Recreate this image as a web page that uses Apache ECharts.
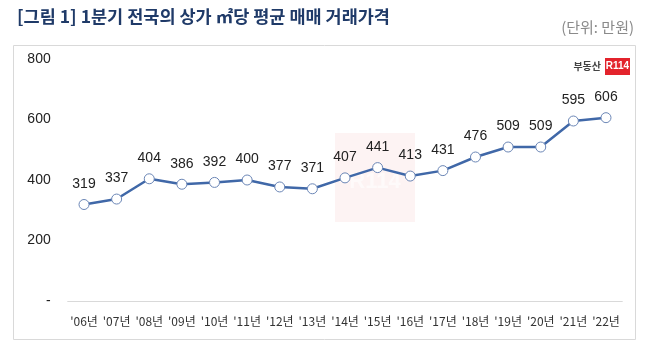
<!DOCTYPE html>
<html>
<head>
<meta charset="utf-8">
<script src="https://cdn.jsdelivr.net/npm/echarts@6/dist/echarts.min.js"></script>
<style>
html,body{margin:0;padding:0;background:#fff;}
#chart{width:646px;height:347px;}
</style>
</head>
<body>
<div id="chart"></div>
<script>
// 연도별 1분기 상가 ㎡당 평균 매매 거래가격 (만원)
var years = ["'06년","'07년","'08년","'09년","'10년","'11년","'12년","'13년","'14년","'15년","'16년","'17년","'18년","'19년","'20년","'21년","'22년"];
var prices = [319, 337, 404, 386, 392, 400, 377, 371, 407, 441, 413, 431, 476, 509, 509, 595, 606];
var yTicks = [0, 200, 400, 600, 800];

var titleText = '[그림 1] 1분기 전국의 상가 ㎡당 평균 매매 거래가격';
var unitText = '(단위: 만원)';

var chart = echarts.init(document.getElementById('chart'));
var font = '"Noto Sans CJK KR", "Liberation Sans", Arial, sans-serif';
var numFont = '"Liberation Sans", Arial, sans-serif';

chart.setOption({
  animation: false,
  textStyle: { fontFamily: font },
  graphic: [
    { type: 'text', left: 17, top: 8, style: { text: titleText, fill: '#1f3a68', font: 'bold 17.5px ' + font } },
    { type: 'text', right: 12, top: 20, style: { text: unitText, fill: '#8a8a8a', font: '15px ' + font } },
    { type: 'rect', shape: { x: 13.5, y: 45.5, width: 622, height: 294 }, style: { fill: 'none', stroke: '#d9d9d9', lineWidth: 1 }, z: -10 },
    // faint watermark
    { type: 'rect', shape: { x: 335, y: 133, width: 80, height: 89 }, style: { fill: '#fdf3f3' }, z: -5 },
    { type: 'text', x: 375, y: 182, style: { text: 'R114', fill: '#fefafa', font: 'bold 22px ' + numFont, align: 'center', verticalAlign: 'middle' }, z: -4 },
    // logo
    { type: 'text', x: 601, y: 66, style: { text: '부동산', fill: '#444', font: 'bold 10px ' + font, align: 'right', verticalAlign: 'middle' } },
    { type: 'rect', shape: { x: 605, y: 58, width: 25, height: 17 }, style: { fill: '#e3232c' } },
    { type: 'text', x: 617.5, y: 66.5, style: { text: 'R114', fill: '#fff', font: 'bold 10px ' + numFont, align: 'center', verticalAlign: 'middle' } }
  ],
  grid: { left: 67.7, right: 23.7, top: 59, bottom: 46 },
  xAxis: {
    type: 'category',
    data: years,
    boundaryGap: true,
    axisLine: { show: true, lineStyle: { color: '#d9d9d9', width: 1 } },
    axisTick: { show: false },
    axisLabel: { color: '#333', fontSize: 12, fontFamily: font, margin: 14, interval: 0 }
  },
  yAxis: {
    type: 'value',
    min: 0, max: 800, interval: 200,
    splitLine: { show: false },
    axisLine: { show: false },
    axisTick: { show: false },
    axisLabel: {
      color: '#222', fontSize: 14, fontFamily: numFont, margin: 17,
      formatter: function (v) { return yTicks.indexOf(v) === 0 ? '-' : String(v); }
    }
  },
  series: [{
    type: 'line',
    data: prices,
    symbol: 'circle',
    symbolSize: 10,
    lineStyle: { color: '#4068a8', width: 2.5 },
    itemStyle: { color: '#fff', borderColor: '#6a85b5', borderWidth: 1 },
    label: { show: true, position: 'top', distance: 8, color: '#222', fontSize: 14, fontFamily: numFont }
  }]
});
</script>
</body>
</html>
